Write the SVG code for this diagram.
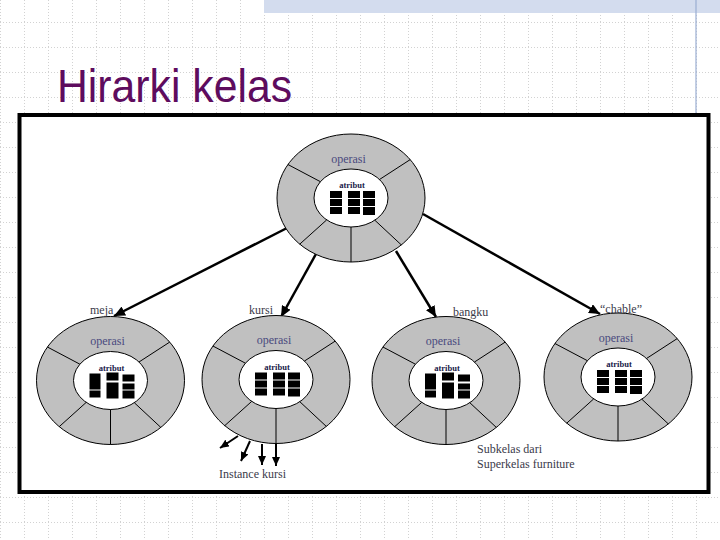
<svg xmlns="http://www.w3.org/2000/svg" xmlns:xlink="http://www.w3.org/1999/xlink" width="720" height="540" viewBox="0 0 720 540">
<style>
.lbl{font-family:"Liberation Serif","Times New Roman",serif;font-size:12px;fill:#3a3a4a}
.op{font-family:"Liberation Serif","Times New Roman",serif;font-size:12px;fill:#4a4a7e;text-anchor:middle}
.at{font-family:"Liberation Serif","Times New Roman",serif;font-size:8.5px;font-weight:bold;fill:#1a1a4a;text-anchor:middle}
.conn{stroke:#000;stroke-width:2.5;fill:none}
.inst{stroke:#000;stroke-width:2;fill:none}
.spoke{stroke:#000;stroke-width:1}
</style>
<defs>
<pattern id="grid" x="0" y="22" width="24" height="25" patternUnits="userSpaceOnUse">
<line x1="0.5" y1="0" x2="0.5" y2="25" stroke="#d2d2d2" stroke-width="1" stroke-dasharray="1 2"/>
<line x1="0" y1="0.5" x2="24" y2="0.5" stroke="#d2d2d2" stroke-width="1" stroke-dasharray="1 2"/>
</pattern>
<marker id="ah" markerWidth="12" markerHeight="10" refX="11" refY="5" orient="auto" markerUnits="userSpaceOnUse">
<path d="M0,0 L11,5 L0,10 Z" fill="#000"/>
</marker>
<marker id="ahs" markerWidth="10" markerHeight="8" refX="9" refY="4" orient="auto" markerUnits="userSpaceOnUse">
<path d="M0,0 L9,4 L0,8 Z" fill="#000"/>
</marker>
<g id="ring">
<ellipse rx="74" ry="64" fill="#c0c0c0" stroke="#000" stroke-width="1"/>
<ellipse rx="37" ry="29" fill="#fff" stroke="#000" stroke-width="1"/>
<line class="spoke" x1="-30.6" y1="-16.3" x2="-63.1" y2="-33.5"/>
<line class="spoke" x1="28.5" y1="-18.5" x2="59.2" y2="-38.4"/>
<line class="spoke" x1="-24.3" y1="21.9" x2="-51.3" y2="46.2"/>
<line class="spoke" x1="23.8" y1="22.2" x2="50.3" y2="46.9"/>
<line class="spoke" x1="0" y1="29" x2="0" y2="64"/>
</g>
<g id="blocksA" fill="#000">
<rect x="-21" y="-7" width="12" height="7"/><rect x="-3" y="-7" width="12" height="7"/><rect x="12" y="-7" width="12" height="7"/>
<rect x="-21" y="1" width="12" height="7"/><rect x="-3" y="1" width="12" height="7"/><rect x="12" y="1" width="12" height="7"/>
<rect x="-21" y="9" width="12" height="7"/><rect x="-3" y="9" width="12" height="7"/><rect x="12" y="9" width="12" height="8"/>
</g>
<g id="blocksB" fill="#000">
<rect x="-21" y="-7" width="11" height="16"/><rect x="-21" y="10" width="11" height="7"/>
<rect x="-4" y="-8" width="12" height="8"/><rect x="-4" y="2" width="12" height="16"/>
<rect x="12" y="-6" width="12" height="7"/><rect x="12" y="3" width="12" height="6"/><rect x="12" y="10" width="12" height="8"/>
</g>
</defs>

<rect x="0" y="0" width="720" height="540" fill="#fff"/>
<rect x="0" y="0" width="720" height="540" fill="url(#grid)"/>
<rect x="264" y="0" width="456" height="13" fill="#d3dcee"/>
<line x1="696" y1="0" x2="696" y2="115" stroke="#9aaed2" stroke-width="1.2"/>

<text x="57" y="102" font-family="Liberation Sans, Arial, sans-serif" font-size="46" fill="#5e0c5e" textLength="235" lengthAdjust="spacingAndGlyphs">Hirarki kelas</text>

<rect x="19.5" y="115" width="689" height="377" fill="#fff" stroke="#000" stroke-width="4"/>

<g id="connectors">
<line class="conn" x1="287" y1="228" x2="114" y2="316" marker-end="url(#ah)"/>
<line class="conn" x1="316" y1="254" x2="281" y2="317" marker-end="url(#ah)"/>
<line class="conn" x1="396" y1="251" x2="436" y2="317" marker-end="url(#ah)"/>
<line class="conn" x1="423" y1="214" x2="600" y2="314" marker-end="url(#ah)"/>
<line class="inst" x1="238" y1="436" x2="220" y2="448" marker-end="url(#ahs)"/>
<line class="inst" x1="250" y1="441" x2="241" y2="461" marker-end="url(#ahs)"/>
<line class="inst" x1="262" y1="444" x2="262" y2="465" marker-end="url(#ahs)"/>
<line class="inst" x1="276" y1="443" x2="276" y2="466" marker-end="url(#ahs)"/>
</g>

<g id="node-top" transform="translate(351,198)">
<use xlink:href="#ring"/>
<use xlink:href="#blocksA"/>
<text class="op" x="-2.5" y="-35.5">operasi</text>
<text class="at" x="1" y="-10">atribut</text>
</g>

<g id="node-meja" transform="translate(110.5,380.5)">
<use xlink:href="#ring"/>
<use xlink:href="#blocksB"/>
<text class="op" x="-3" y="-35.5">operasi</text>
<text class="at" x="1" y="-10">atribut</text>
</g>
<text class="lbl" x="90" y="314">meja</text>

<g id="node-kursi" transform="translate(276,379.5)">
<use xlink:href="#ring"/>
<use xlink:href="#blocksA"/>
<text class="op" x="-2" y="-35.5">operasi</text>
<text class="at" x="1" y="-10">atribut</text>
</g>
<text class="lbl" x="249" y="314">kursi</text>

<g id="node-bangku" transform="translate(446,380.5)">
<use xlink:href="#ring"/>
<use xlink:href="#blocksB"/>
<text class="op" x="-3" y="-35.5">operasi</text>
<text class="at" x="1" y="-10">atribut</text>
</g>
<text class="lbl" x="453" y="316">bangku</text>

<g id="node-chable" transform="translate(618,377)">
<use xlink:href="#ring"/>
<use xlink:href="#blocksA"/>
<text class="op" x="-2" y="-35.5">operasi</text>
<text class="at" x="1" y="-10">atribut</text>
</g>
<text class="lbl" x="600" y="313">“chable”</text>

<text class="lbl" x="219" y="478">Instance kursi</text>
<text class="lbl" x="477" y="452.5">Subkelas dari</text>
<text class="lbl" x="477" y="467.5">Superkelas furniture</text>
</svg>
